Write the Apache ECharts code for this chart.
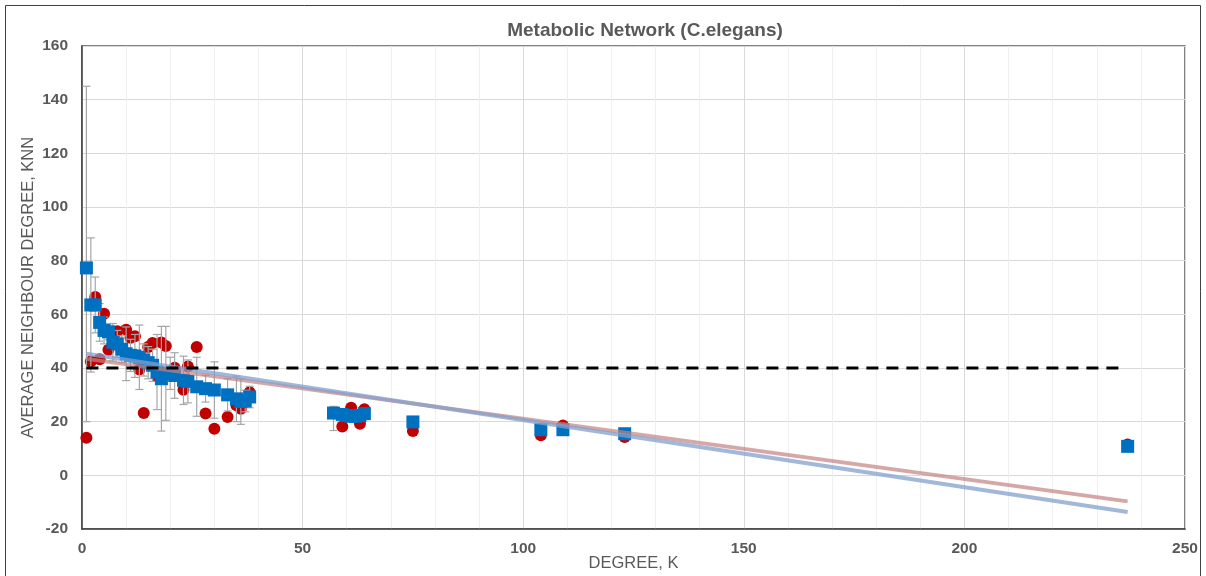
<!DOCTYPE html>
<html>
<head>
<meta charset="utf-8">
<script src="https://cdn.jsdelivr.net/npm/echarts@6/dist/echarts.min.js"></script>
<style>
html, body { margin: 0; padding: 0; background: #fff; }
#chart { width: 1206px; height: 576px; }
</style>
</head>
<body>
<div id="chart"></div>
<script>
// degree k and average neighbour degree
var blueK   = [1, 2, 3, 4, 5, 6, 7, 8, 9, 10, 11, 12, 13, 14, 15, 16, 17, 18, 19, 20, 21, 23, 24, 26, 28, 30, 33, 35, 36, 37, 38, 57, 59, 60, 61, 62, 63, 64, 75, 104, 109, 123, 237];
var blueKnn = [77.3, 63.5, 63.5, 57, 54, 53.5, 49.6, 49, 47, 45.3, 44.7, 44.5, 44, 43, 42, 41, 38.5, 36, 38, 38, 37.2, 35.4, 35, 33, 32.3, 31.8, 30, 28.5, 27.5, 27.7, 29.2, 23.2, 22.7, 22.3, 22, 22, 22.3, 23, 19.9, 17, 17, 15.5, 10.8];
var blueErrUp   = [67.7, 25, 10.4, 7, 5, 3, 7, 5, 5, 10, 6, 8, 12, 6, 6, 6, 14, 19.5, 17.5, 6, 8.5, 9, 8, 11, 5, 10.5, 6, 8.5, 8.5, 4, 4, 2.5, 0, 0, 0, 0, 0, 0, 0, 0, 0, 0, 0];
var blueErrDown = [57.3, 25, 10.4, 7, 5, 3, 7, 5, 5, 10, 6, 8, 12, 6, 6, 6, 14, 19.5, 17.5, 6, 8.5, 9, 8, 11, 5, 10.5, 6, 8.5, 8.5, 4, 4, 6.5, 0, 0, 0, 0, 0, 0, 0, 0, 0, 0, 0];

var redK   = [1, 2, 3, 4, 5, 6, 8, 10, 11, 12, 13, 14, 15, 16, 17, 18, 19, 21, 23, 24, 26, 28, 30, 33, 35, 36, 38, 59, 61, 63, 64, 75, 104, 109, 123, 237];
var redKnn = [14, 42.4, 66.5, 43.3, 60.2, 46.8, 53.7, 54.3, 51.3, 51.8, 39.4, 23.2, 47.8, 49.3, 37, 49.5, 48.2, 40.1, 31.9, 40.6, 47.8, 23, 17.4, 21.7, 26.1, 24.8, 31, 18.2, 25.2, 19.2, 24.6, 16.5, 14.9, 18.6, 14.3, 11.5];

// linear trend lines and the reference level
var redTrend  = [[1, 43.4], [237, -9.7]];
var blueTrend = [[1, 45.3], [237, -13.7]];
var refLine   = [[1, 40], [236, 40]];

var dom = document.getElementById('chart');
var myChart = echarts.init(dom);
var font = "'Liberation Sans Narrow', 'Liberation Sans', Arial, sans-serif";

var blueData = blueK.map(function (k, i) { return [k, blueKnn[i]]; });
var redData = redK.map(function (k, i) { return [k, redKnn[i]]; });
var errData = [];
blueK.forEach(function (k, i) {
    if (blueErrUp[i] > 0) errData.push([k, blueKnn[i] - blueErrDown[i], blueKnn[i] + blueErrUp[i]]);
});

option = {
    animation: false,
    textStyle: { fontFamily: font },
    title: {
        text: 'Metabolic Network (C.elegans)',
        left: 640,
        textAlign: 'center',
        top: 16,
        textStyle: { fontSize: 19, fontWeight: 'bold', color: '#595959', fontFamily: font }
    },
    graphic: [{
        type: 'rect',
        shape: { x: 5.5, y: 5.5, width: 1195, height: 590 },
        style: { fill: null, stroke: '#404040', lineWidth: 1 },
        silent: true
    }],
    grid: {
        left: 82,
        right: 21,
        top: 46,
        bottom: 47,
        outerBoundsMode: 'none',
        containLabel: false,
        show: true,
        borderColor: '#595959',
        borderWidth: 1.5
    },
    xAxis: {
        type: 'value',
        min: 0,
        max: 250,
        interval: 50,
        name: 'DEGREE, K',
        nameLocation: 'middle',
        nameGap: 26,
        nameMoveOverlap: false,
        nameTextStyle: { fontSize: 16.5, color: '#595959', fontFamily: font },
        axisLine: { onZero: false, lineStyle: { color: '#404040', width: 1.5 } },
        axisTick: { show: false },
        axisLabel: { margin: 12, fontSize: 15.5, color: '#595959', fontWeight: 'bold', fontFamily: font },
        splitLine: { lineStyle: { color: '#d9d9d9', width: 1 } },
        minorTick: { show: false, splitNumber: 5 },
        minorSplitLine: { show: true, lineStyle: { color: '#efefef', width: 1 } }
    },
    yAxis: {
        type: 'value',
        min: -20,
        max: 160,
        interval: 20,
        name: 'AVERAGE NEIGHBOUR DEGREE, KNN',
        nameLocation: 'middle',
        nameRotate: 90,
        nameGap: 45,
        nameMoveOverlap: false,
        nameTextStyle: { fontSize: 16.5, color: '#595959', fontFamily: font },
        axisLine: { show: true, lineStyle: { color: '#404040', width: 1.5 } },
        axisTick: { show: false },
        axisLabel: { margin: 14, fontSize: 15.5, color: '#595959', fontWeight: 'bold', fontFamily: font },
        splitLine: { lineStyle: { color: '#d9d9d9', width: 1 } }
    },
    series: [
        {
            name: 'red',
            type: 'scatter',
            symbol: 'circle',
            symbolSize: 12,
            itemStyle: { color: '#c00000', opacity: 1 },
            data: redData,
            z: 2
        },
        {
            name: 'err',
            type: 'custom',
            encode: { x: 0, y: [1, 2] },
            data: errData,
            z: 3,
            renderItem: function (params, api) {
                var x = api.value(0);
                var lo = api.coord([x, api.value(1)]);
                var hi = api.coord([x, api.value(2)]);
                var w = 4;
                var st = { stroke: '#a6a6a6', lineWidth: 1.2 };
                return {
                    type: 'group',
                    children: [
                        { type: 'line', shape: { x1: lo[0], y1: lo[1], x2: hi[0], y2: hi[1] }, style: st },
                        { type: 'line', shape: { x1: lo[0] - w, y1: lo[1], x2: lo[0] + w, y2: lo[1] }, style: st },
                        { type: 'line', shape: { x1: hi[0] - w, y1: hi[1], x2: hi[0] + w, y2: hi[1] }, style: st }
                    ]
                };
            }
        },
        {
            name: 'blue',
            type: 'scatter',
            symbol: 'rect',
            symbolSize: 13,
            itemStyle: { color: '#0070c0', opacity: 1 },
            data: blueData,
            z: 4
        },
        {
            name: 'red trend',
            type: 'line',
            data: redTrend,
            symbol: 'none',
            lineStyle: { color: 'rgba(196,130,130,0.7)', width: 4 },
            z: 5
        },
        {
            name: 'blue trend',
            type: 'line',
            data: blueTrend,
            symbol: 'none',
            lineStyle: { color: 'rgba(130,160,205,0.75)', width: 4 },
            z: 5
        },
        {
            name: 'ref',
            type: 'line',
            data: refLine,
            symbol: 'none',
            lineStyle: { color: '#000000', width: 3, type: [12, 8] },
            z: 6
        }
    ]
};
myChart.setOption(option);
</script>
</body>
</html>
